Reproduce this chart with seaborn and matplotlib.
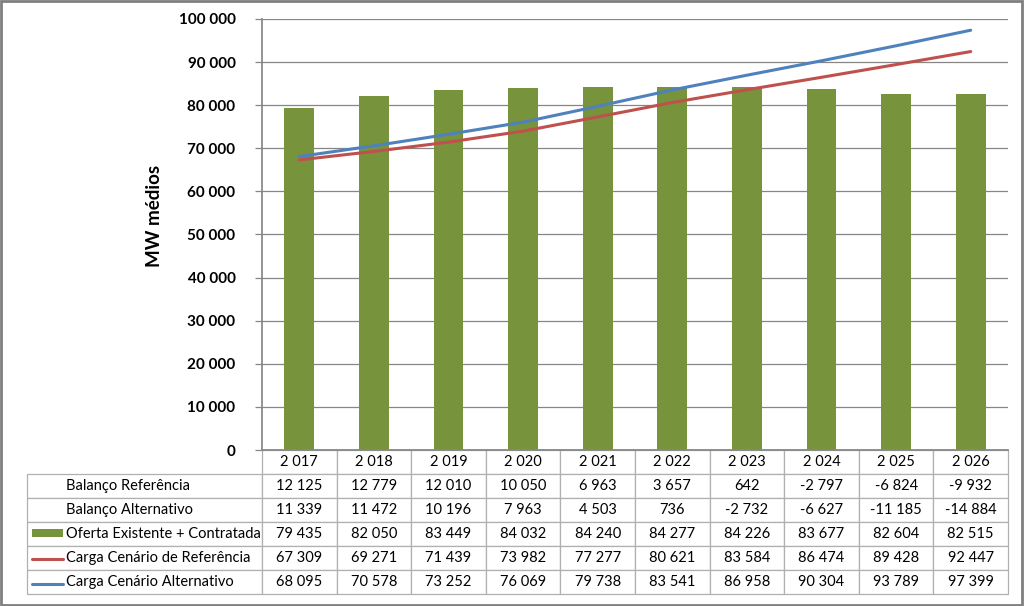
import numpy as np
import pandas as pd
import matplotlib
matplotlib.use("Agg")
import matplotlib.pyplot as plt
import seaborn as sns
from matplotlib.table import Table
from matplotlib.patches import Rectangle
from matplotlib.lines import Line2D

years = [2017, 2018, 2019, 2020, 2021, 2022, 2023, 2024, 2025, 2026]
balanco_ref = [12125, 12779, 12010, 10050, 6963, 3657, 642, -2797, -6824, -9932]
balanco_alt = [11339, 11472, 10196, 7963, 4503, 736, -2732, -6627, -11185, -14884]
oferta = [79435, 82050, 83449, 84032, 84240, 84277, 84226, 83677, 82604, 82515]
carga_ref = [67309, 69271, 71439, 73982, 77277, 80621, 83584, 86474, 89428, 92447]
carga_alt = [68095, 70578, 73252, 76069, 79738, 83541, 86958, 90304, 93789, 97399]
row_labels = ["Balanço Referência", "Balanço Alternativo", "Oferta Existente + Contratada",
              "Carga Cenário de Referência", "Carga Cenário Alternativo"]
y_ticks = [0, 10000, 20000, 30000, 40000, 50000, 60000, 70000, 80000, 90000, 100000]
y_label = "MW médios"

GREEN = "#77933C"
RED = "#C0504D"
BLUE = "#4F81BD"
GRID = "#868686"
CELL = "#B0B0B0"

sns.set_theme(style="white")
plt.rcParams["font.family"] = ["Lato", "DejaVu Sans"]

def fmt(v):
    return f"{v:,}".replace(",", " ")

W, H = 1024, 606
AX_L, AX_R, AX_T, AX_B = 262, 1008, 19, 450
AW, AH = AX_R - AX_L, AX_B - AX_T
fig = plt.figure(figsize=(W / 100, H / 100), dpi=100)
fig.patch.set_facecolor("white")
ax = fig.add_axes([AX_L / W, (H - AX_B) / H, AW / W, AH / H])

df = pd.DataFrame({"ano": [fmt(y) for y in years], "oferta": oferta,
                   "idx": np.arange(len(years)), "ref": carga_ref, "alt": carga_alt})
sns.barplot(data=df, x="ano", y="oferta", color=GREEN, saturation=1, width=0.4,
            edgecolor="none", ax=ax)
sns.lineplot(data=df, x="idx", y="ref", color=RED, lw=2.2, ax=ax)
sns.lineplot(data=df, x="idx", y="alt", color=BLUE, lw=2.2, ax=ax)

ax.set_xlim(-0.5, len(years) - 0.5)
ax.set_ylim(0, 100000)
ax.set_yticks(y_ticks)
ax.set_yticklabels([fmt(t) for t in y_ticks], fontweight="bold", fontsize=11, color="black")
ax.set_xticks([])
ax.set_xlabel("")
ax.set_ylabel(y_label, fontweight="bold", fontsize=13.5, color="black")
ax.yaxis.set_label_coords((163 - AX_L) / AW, (AX_B - 216) / AH)
ax.yaxis.grid(True, color=GRID, lw=0.9)
ax.set_axisbelow(True)
for s in ["top", "right"]:
    ax.spines[s].set_visible(False)
ax.spines["left"].set_color(GRID)
ax.spines["bottom"].set_color(GRID)
ax.tick_params(axis="y", left=True, length=5, color=GRID, width=0.9, pad=14)

# data table (widths/heights in axes units)
ncol = len(years)
col_w = 1.0 / ncol
lab_w = (AX_L - 27) / AW
row_h = 24.0 / AH
nrows = 6
tab = Table(ax, bbox=[0, -nrows * row_h, 1, nrows * row_h])
for j, y in enumerate(years):
    tab.add_cell(0, j, width=col_w, height=row_h, text=fmt(y), loc="center")
rows = [balanco_ref, balanco_alt, oferta, carga_ref, carga_alt]
for i, (lab, vals) in enumerate(zip(row_labels, rows), start=1):
    c = tab.add_cell(i, -1, width=lab_w, height=row_h, text=lab, loc="left")
    c.PAD = 0.166
    for j, v in enumerate(vals):
        tab.add_cell(i, j, width=col_w, height=row_h, text=fmt(v), loc="center")
tab.auto_set_font_size(False)
tab.set_fontsize(10.5)
ax.add_table(tab)
tab.set_clip_on(False)
for (r, cidx), cell in tab.get_celld().items():
    cell.set_edgecolor(CELL)
    cell.set_linewidth(0.9)
    cell.set_clip_on(False)
    cell.get_text().set_fontsize(10.5)
    cell.get_text().set_color("black")
    cell.get_text().set_clip_on(False)

# legend keys in table row labels
def fx(px):
    return px / W
def fy(py):
    return 1 - py / H
fig.add_artist(Rectangle((fx(32), fy(537)), fx(31), 8 / H, facecolor=GREEN, edgecolor="none"))
fig.add_artist(Line2D([fx(32), fx(63)], [fy(559), fy(559)], color=RED, lw=2.2))
fig.add_artist(Line2D([fx(32), fx(63)], [fy(584), fy(584)], color=BLUE, lw=2.2))

# figure frame
fig.add_artist(Rectangle((0.001, 0.002), 0.997, 0.996, transform=fig.transFigure,
                         fill=False, edgecolor="#7F7F7F", lw=2))

fig.savefig("out.png", dpi=100)
